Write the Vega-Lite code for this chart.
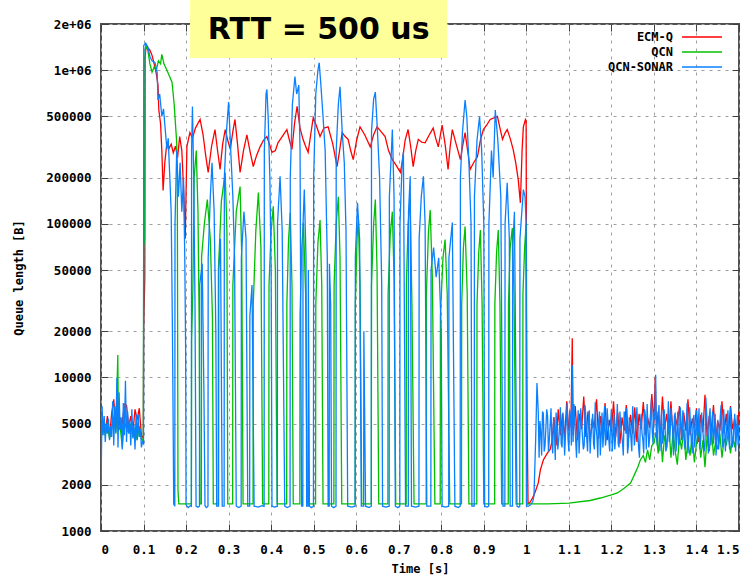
{
"$schema": "https://vega.github.io/schema/vega-lite/v6.json",
"width": 638, "height": 507,
"autosize": {"type": "none"},
"padding": {"left": 101, "top": 24, "right": 16, "bottom": 45},
"background": "white",
"config": {
  "view": {"stroke": "#505050", "strokeWidth": 2},
  "axis": {"labelFont": "DejaVu Sans Mono", "labelFontWeight": "bold", "labelFontSize": 12.5, "labelColor": "#000000",
           "titleFont": "DejaVu Sans Mono", "titleFontWeight": "bold", "titleFontSize": 12, "titleColor": "#000000",
           "domain": false, "tickColor": "#404040", "tickSize": -7, "tickWidth": 1,
           "gridColor": "#a0a0a0", "gridDash": [3, 5], "gridWidth": 1, "gridOpacity": 1}
},
"layer": [
{
  "data": {"values": [
{"time":0,"ECM-Q":4600},{"time":0.005,"ECM-Q":5200},{"time":0.01,"ECM-Q":4300},{"time":0.015,"ECM-Q":5600},{"time":0.02,"ECM-Q":4100},{"time":0.025,"ECM-Q":5800},{"time":0.03,"ECM-Q":7200},{"time":0.035,"ECM-Q":4600},{"time":0.04,"ECM-Q":6900},{"time":0.045,"ECM-Q":4700},{"time":0.05,"ECM-Q":5000},{"time":0.055,"ECM-Q":6700},{"time":0.06,"ECM-Q":6600},{"time":0.065,"ECM-Q":4800},{"time":0.07,"ECM-Q":5600},{"time":0.075,"ECM-Q":4400},{"time":0.08,"ECM-Q":6200},{"time":0.085,"ECM-Q":5300},{"time":0.09,"ECM-Q":6300},{"time":0.095,"ECM-Q":4200},{"time":0.0995,"ECM-Q":4000},
{"time":0.1003,"ECM-Q":20000},{"time":0.103,"ECM-Q":45000},{"time":0.1035,"ECM-Q":1200000},{"time":0.106,"ECM-Q":1450000},{"time":0.11,"ECM-Q":1400000},{"time":0.115,"ECM-Q":1350000},{"time":0.12,"ECM-Q":1250000},{"time":0.125,"ECM-Q":1100000},{"time":0.13,"ECM-Q":950000},{"time":0.134,"ECM-Q":800000},{"time":0.136,"ECM-Q":550000},{"time":0.14,"ECM-Q":450000},{"time":0.143,"ECM-Q":300000},{"time":0.146,"ECM-Q":165000},{"time":0.15,"ECM-Q":250000},{"time":0.155,"ECM-Q":340000},{"time":0.16,"ECM-Q":310000},{"time":0.165,"ECM-Q":330000},{"time":0.17,"ECM-Q":290000},{"time":0.175,"ECM-Q":320000},{"time":0.18,"ECM-Q":270000},{"time":0.185,"ECM-Q":370000},{"time":0.19,"ECM-Q":300000},{"time":0.195,"ECM-Q":150000},{"time":0.198,"ECM-Q":80000},
{"time":0.202,"ECM-Q":320000},{"time":0.209,"ECM-Q":393000},{"time":0.215,"ECM-Q":360000},{"time":0.222,"ECM-Q":420000},{"time":0.233,"ECM-Q":478000},{"time":0.24,"ECM-Q":380000},{"time":0.246,"ECM-Q":280000},{"time":0.252,"ECM-Q":216000},{"time":0.26,"ECM-Q":320000},{"time":0.268,"ECM-Q":411000},{"time":0.274,"ECM-Q":300000},{"time":0.28,"ECM-Q":226000},{"time":0.286,"ECM-Q":330000},{"time":0.292,"ECM-Q":411000},{"time":0.298,"ECM-Q":350000},{"time":0.304,"ECM-Q":305000},{"time":0.31,"ECM-Q":400000},{"time":0.315,"ECM-Q":478000},{"time":0.321,"ECM-Q":330000},{"time":0.327,"ECM-Q":216000},{"time":0.335,"ECM-Q":300000},{"time":0.343,"ECM-Q":380000},{"time":0.35,"ECM-Q":300000},{"time":0.358,"ECM-Q":236000},{"time":0.366,"ECM-Q":280000},{"time":0.374,"ECM-Q":317000},{"time":0.382,"ECM-Q":350000},{"time":0.39,"ECM-Q":370000},{"time":0.396,"ECM-Q":330000},
{"time":0.402,"ECM-Q":292000},{"time":0.41,"ECM-Q":300000},{"time":0.416,"ECM-Q":337000},{"time":0.426,"ECM-Q":370000},{"time":0.437,"ECM-Q":411000},{"time":0.443,"ECM-Q":350000},{"time":0.449,"ECM-Q":305000},{"time":0.455,"ECM-Q":450000},{"time":0.461,"ECM-Q":581000},{"time":0.468,"ECM-Q":420000},{"time":0.475,"ECM-Q":355000},{"time":0.481,"ECM-Q":320000},{"time":0.487,"ECM-Q":292000},{"time":0.493,"ECM-Q":380000},{"time":0.499,"ECM-Q":492000},{"time":0.507,"ECM-Q":430000},{"time":0.515,"ECM-Q":370000},{"time":0.524,"ECM-Q":420000},{"time":0.534,"ECM-Q":428000},{"time":0.545,"ECM-Q":330000},{"time":0.555,"ECM-Q":236000},{"time":0.561,"ECM-Q":300000},{"time":0.567,"ECM-Q":393000},{"time":0.574,"ECM-Q":370000},{"time":0.581,"ECM-Q":355000},{"time":0.587,"ECM-Q":300000},{"time":0.593,"ECM-Q":262000},
{"time":0.601,"ECM-Q":350000},{"time":0.609,"ECM-Q":428000},{"time":0.62,"ECM-Q":380000},{"time":0.633,"ECM-Q":317000},{"time":0.641,"ECM-Q":380000},{"time":0.649,"ECM-Q":428000},{"time":0.658,"ECM-Q":400000},{"time":0.668,"ECM-Q":370000},{"time":0.676,"ECM-Q":300000},{"time":0.685,"ECM-Q":262000},{"time":0.694,"ECM-Q":240000},{"time":0.704,"ECM-Q":216000},{"time":0.708,"ECM-Q":250000},{"time":0.715,"ECM-Q":350000},{"time":0.722,"ECM-Q":411000},{"time":0.728,"ECM-Q":320000},{"time":0.734,"ECM-Q":236000},{"time":0.74,"ECM-Q":300000},{"time":0.746,"ECM-Q":355000},{"time":0.754,"ECM-Q":340000},{"time":0.762,"ECM-Q":337000},{"time":0.772,"ECM-Q":380000},{"time":0.781,"ECM-Q":420000},{"time":0.787,"ECM-Q":360000},{"time":0.793,"ECM-Q":317000},{"time":0.798,"ECM-Q":380000},
{"time":0.802,"ECM-Q":440000},{"time":0.809,"ECM-Q":330000},{"time":0.816,"ECM-Q":226000},{"time":0.821,"ECM-Q":320000},{"time":0.826,"ECM-Q":411000},{"time":0.835,"ECM-Q":330000},{"time":0.845,"ECM-Q":262000},{"time":0.851,"ECM-Q":330000},{"time":0.856,"ECM-Q":393000},{"time":0.862,"ECM-Q":300000},{"time":0.868,"ECM-Q":226000},{"time":0.876,"ECM-Q":250000},{"time":0.885,"ECM-Q":273000},{"time":0.892,"ECM-Q":350000},{"time":0.899,"ECM-Q":411000},{"time":0.907,"ECM-Q":440000},{"time":0.915,"ECM-Q":478000},{"time":0.924,"ECM-Q":490000},{"time":0.932,"ECM-Q":500000},{"time":0.938,"ECM-Q":420000},{"time":0.944,"ECM-Q":355000},{"time":0.95,"ECM-Q":390000},{"time":0.955,"ECM-Q":411000},{"time":0.962,"ECM-Q":360000},{"time":0.969,"ECM-Q":305000},{"time":0.975,"ECM-Q":250000},{"time":0.981,"ECM-Q":194000},{"time":0.986,"ECM-Q":137000},{"time":0.99,"ECM-Q":300000},{"time":0.993,"ECM-Q":428000},{"time":0.998,"ECM-Q":478000},{"time":0.9995,"ECM-Q":470000},
{"time":1.0005,"ECM-Q":26000},{"time":1.002,"ECM-Q":5000},{"time":1.004,"ECM-Q":1500},{"time":1.009,"ECM-Q":1540},{"time":1.015,"ECM-Q":1650},{"time":1.021,"ECM-Q":1800},{"time":1.028,"ECM-Q":2050},{"time":1.033,"ECM-Q":2500},{"time":1.04,"ECM-Q":2900},{"time":1.049,"ECM-Q":3200},{"time":1.056,"ECM-Q":3400},
{"time":1.06,"ECM-Q":3800},{"time":1.065,"ECM-Q":5500},{"time":1.07,"ECM-Q":3600},{"time":1.075,"ECM-Q":6200},{"time":1.08,"ECM-Q":4200},{"time":1.085,"ECM-Q":5800},{"time":1.09,"ECM-Q":4000},{"time":1.095,"ECM-Q":7000},{"time":1.1,"ECM-Q":4500},{"time":1.105,"ECM-Q":5200},{"time":1.108,"ECM-Q":18000},{"time":1.11,"ECM-Q":4200},{"time":1.115,"ECM-Q":6500},{"time":1.12,"ECM-Q":3900},{"time":1.125,"ECM-Q":5800},{"time":1.13,"ECM-Q":4600},{"time":1.135,"ECM-Q":7500},{"time":1.14,"ECM-Q":4100},{"time":1.145,"ECM-Q":6000},{"time":1.15,"ECM-Q":3800},{"time":1.155,"ECM-Q":5400},{"time":1.16,"ECM-Q":4700},{"time":1.165,"ECM-Q":7200},{"time":1.17,"ECM-Q":4000},{"time":1.175,"ECM-Q":5600},{"time":1.18,"ECM-Q":4300},{"time":1.185,"ECM-Q":6800},{"time":1.19,"ECM-Q":3900},{"time":1.195,"ECM-Q":5300},
{"time":1.2,"ECM-Q":4400},{"time":1.205,"ECM-Q":7000},{"time":1.21,"ECM-Q":4100},{"time":1.215,"ECM-Q":5900},{"time":1.22,"ECM-Q":3700},{"time":1.225,"ECM-Q":5500},{"time":1.23,"ECM-Q":4500},{"time":1.235,"ECM-Q":6600},{"time":1.24,"ECM-Q":4000},{"time":1.245,"ECM-Q":5700},{"time":1.25,"ECM-Q":4300},{"time":1.255,"ECM-Q":6400},{"time":1.26,"ECM-Q":3800},{"time":1.265,"ECM-Q":5800},{"time":1.27,"ECM-Q":4600},{"time":1.275,"ECM-Q":6900},{"time":1.28,"ECM-Q":4200},{"time":1.285,"ECM-Q":5500},{"time":1.29,"ECM-Q":4700},{"time":1.295,"ECM-Q":7800},{"time":1.3,"ECM-Q":5000},{"time":1.303,"ECM-Q":10000},{"time":1.306,"ECM-Q":4500},{"time":1.31,"ECM-Q":6000},{"time":1.315,"ECM-Q":4100},{"time":1.32,"ECM-Q":7500},{"time":1.325,"ECM-Q":4600},{"time":1.33,"ECM-Q":5800},{"time":1.335,"ECM-Q":4300},{"time":1.34,"ECM-Q":7000},{"time":1.345,"ECM-Q":4000},{"time":1.35,"ECM-Q":5600},{"time":1.355,"ECM-Q":4800},{"time":1.36,"ECM-Q":6500},{"time":1.365,"ECM-Q":3900},{"time":1.37,"ECM-Q":5900},{"time":1.375,"ECM-Q":4500},{"time":1.38,"ECM-Q":7200},{"time":1.385,"ECM-Q":4200},{"time":1.39,"ECM-Q":5400},{"time":1.395,"ECM-Q":4700},
{"time":1.4,"ECM-Q":6300},{"time":1.405,"ECM-Q":3800},{"time":1.41,"ECM-Q":5700},{"time":1.415,"ECM-Q":4400},{"time":1.42,"ECM-Q":7700},{"time":1.425,"ECM-Q":4100},{"time":1.43,"ECM-Q":5600},{"time":1.435,"ECM-Q":4600},{"time":1.44,"ECM-Q":6600},{"time":1.445,"ECM-Q":3900},{"time":1.45,"ECM-Q":5200},{"time":1.455,"ECM-Q":4500},{"time":1.46,"ECM-Q":7000},{"time":1.465,"ECM-Q":4300},{"time":1.47,"ECM-Q":5800},{"time":1.475,"ECM-Q":4100},{"time":1.48,"ECM-Q":6500},{"time":1.485,"ECM-Q":4600},{"time":1.49,"ECM-Q":5400},{"time":1.495,"ECM-Q":4200},{"time":1.5,"ECM-Q":6000},

{"time":0,"QCN":4000},{"time":0.005,"QCN":4800},{"time":0.01,"QCN":4200},{"time":0.015,"QCN":5100},{"time":0.02,"QCN":4000},{"time":0.025,"QCN":4600},{"time":0.03,"QCN":5500},{"time":0.035,"QCN":4300},{"time":0.0395,"QCN":14000},{"time":0.041,"QCN":4500},{"time":0.045,"QCN":4800},{"time":0.05,"QCN":3500},{"time":0.055,"QCN":5200},{"time":0.06,"QCN":4600},{"time":0.065,"QCN":4400},{"time":0.07,"QCN":5000},{"time":0.075,"QCN":4100},{"time":0.08,"QCN":4700},{"time":0.085,"QCN":3900},{"time":0.09,"QCN":4800},{"time":0.095,"QCN":4000},{"time":0.0995,"QCN":3800},
{"time":0.1003,"QCN":70000},{"time":0.1025,"QCN":80000},{"time":0.1035,"QCN":1300000},{"time":0.106,"QCN":1450000},{"time":0.11,"QCN":1350000},{"time":0.115,"QCN":1100000},{"time":0.12,"QCN":970000},{"time":0.125,"QCN":1050000},{"time":0.13,"QCN":1000000},{"time":0.135,"QCN":1150000},{"time":0.14,"QCN":1100000},{"time":0.143,"QCN":1270000},{"time":0.148,"QCN":1100000},{"time":0.155,"QCN":1000000},{"time":0.162,"QCN":900000},{"time":0.167,"QCN":835000},{"time":0.172,"QCN":600000},{"time":0.175,"QCN":450000},{"time":0.178,"QCN":337000},{"time":0.1795,"QCN":150000},{"time":0.181,"QCN":1850},{"time":0.183,"QCN":1500},
{"time":0.2125,"QCN":1500},{"time":0.213,"QCN":17600},{"time":0.216,"QCN":37000},{"time":0.219,"QCN":200000},{"time":0.224,"QCN":300000},{"time":0.228,"QCN":120000},{"time":0.231,"QCN":20000},{"time":0.2325,"QCN":1500},
{"time":0.236,"QCN":1500},{"time":0.2365,"QCN":61000},{"time":0.243,"QCN":100000},{"time":0.25,"QCN":144000},{"time":0.257,"QCN":80000},{"time":0.262,"QCN":24800},{"time":0.264,"QCN":1500},
{"time":0.2755,"QCN":1500},{"time":0.276,"QCN":50000},{"time":0.283,"QCN":140000},{"time":0.292,"QCN":216000},{"time":0.296,"QCN":90000},{"time":0.298,"QCN":1500},
{"time":0.3095,"QCN":1500},{"time":0.31,"QCN":40000},{"time":0.318,"QCN":120000},{"time":0.327,"QCN":175000},{"time":0.331,"QCN":60000},{"time":0.334,"QCN":1500},
{"time":0.3575,"QCN":1500},{"time":0.358,"QCN":30000},{"time":0.364,"QCN":90000},{"time":0.37,"QCN":160000},{"time":0.376,"QCN":70000},{"time":0.38,"QCN":1500},
{"time":0.3945,"QCN":1500},{"time":0.395,"QCN":40000},{"time":0.4,"QCN":90000},{"time":0.405,"QCN":130000},{"time":0.41,"QCN":50000},{"time":0.414,"QCN":1500},
{"time":0.4365,"QCN":1500},{"time":0.437,"QCN":30000},{"time":0.441,"QCN":80000},{"time":0.445,"QCN":118000},{"time":0.449,"QCN":40000},{"time":0.452,"QCN":1500},
{"time":0.4675,"QCN":1500},{"time":0.468,"QCN":25000},{"time":0.472,"QCN":70000},{"time":0.476,"QCN":102000},{"time":0.481,"QCN":35000},{"time":0.485,"QCN":1500},
{"time":0.5045,"QCN":1500},{"time":0.505,"QCN":30000},{"time":0.51,"QCN":75000},{"time":0.515,"QCN":106000},{"time":0.519,"QCN":40000},{"time":0.522,"QCN":1500},
{"time":0.5475,"QCN":1500},{"time":0.548,"QCN":40000},{"time":0.553,"QCN":100000},{"time":0.558,"QCN":150000},{"time":0.562,"QCN":60000},{"time":0.566,"QCN":1500},
{"time":0.5975,"QCN":1500},{"time":0.598,"QCN":30000},{"time":0.602,"QCN":80000},{"time":0.605,"QCN":111000},{"time":0.609,"QCN":40000},{"time":0.613,"QCN":1500},
{"time":0.6355,"QCN":1500},{"time":0.636,"QCN":40000},{"time":0.641,"QCN":100000},{"time":0.645,"QCN":144000},{"time":0.649,"QCN":50000},{"time":0.653,"QCN":1500},
{"time":0.6745,"QCN":1500},{"time":0.675,"QCN":35000},{"time":0.68,"QCN":85000},{"time":0.685,"QCN":120000},{"time":0.689,"QCN":45000},{"time":0.693,"QCN":1500},
{"time":0.7175,"QCN":1500},{"time":0.718,"QCN":40000},{"time":0.722,"QCN":100000},{"time":0.727,"QCN":144000},{"time":0.731,"QCN":30000},{"time":0.736,"QCN":1500},
{"time":0.7645,"QCN":1500},{"time":0.765,"QCN":35000},{"time":0.77,"QCN":90000},{"time":0.774,"QCN":123000},{"time":0.779,"QCN":45000},{"time":0.785,"QCN":1500},
{"time":0.7975,"QCN":1500},{"time":0.798,"QCN":25000},{"time":0.804,"QCN":60000},{"time":0.809,"QCN":79000},{"time":0.814,"QCN":35000},{"time":0.82,"QCN":1500},
{"time":0.8475,"QCN":1500},{"time":0.848,"QCN":30000},{"time":0.852,"QCN":70000},{"time":0.856,"QCN":96000},{"time":0.861,"QCN":35000},{"time":0.865,"QCN":1500},
{"time":0.8835,"QCN":1500},{"time":0.884,"QCN":30000},{"time":0.888,"QCN":65000},{"time":0.892,"QCN":91000},{"time":0.896,"QCN":30000},{"time":0.9,"QCN":1500},
{"time":0.9255,"QCN":1500},{"time":0.926,"QCN":30000},{"time":0.93,"QCN":65000},{"time":0.934,"QCN":91000},{"time":0.938,"QCN":30000},{"time":0.942,"QCN":1500},
{"time":0.9575,"QCN":1500},{"time":0.958,"QCN":30000},{"time":0.962,"QCN":70000},{"time":0.967,"QCN":94000},{"time":0.971,"QCN":35000},{"time":0.976,"QCN":1500},
{"time":0.9915,"QCN":1500},{"time":0.992,"QCN":35000},{"time":0.996,"QCN":70000},{"time":0.9995,"QCN":100000},{"time":1.0005,"QCN":1500},
{"time":1.05,"QCN":1500},{"time":1.1,"QCN":1520},{"time":1.15,"QCN":1580},{"time":1.174,"QCN":1640},{"time":1.2,"QCN":1720},{"time":1.214,"QCN":1770},{"time":1.23,"QCN":1900},{"time":1.245,"QCN":2050},{"time":1.25,"QCN":2200},{"time":1.256,"QCN":2390},{"time":1.262,"QCN":2600},{"time":1.268,"QCN":2900},{"time":1.275,"QCN":3100},{"time":1.28,"QCN":2800},{"time":1.285,"QCN":3370},{"time":1.29,"QCN":2900},{"time":1.295,"QCN":3600},{"time":1.3,"QCN":3740},
{"time":1.305,"QCN":4400},{"time":1.31,"QCN":3200},{"time":1.315,"QCN":4800},{"time":1.32,"QCN":2800},{"time":1.325,"QCN":4200},{"time":1.33,"QCN":3500},{"time":1.335,"QCN":5000},{"time":1.34,"QCN":3000},{"time":1.345,"QCN":4400},{"time":1.35,"QCN":3300},{"time":1.355,"QCN":2700},{"time":1.36,"QCN":4100},{"time":1.365,"QCN":3400},{"time":1.37,"QCN":4600},{"time":1.375,"QCN":2900},{"time":1.38,"QCN":3800},{"time":1.385,"QCN":3100},{"time":1.39,"QCN":4300},{"time":1.395,"QCN":2800},{"time":1.4,"QCN":3700},{"time":1.405,"QCN":4500},{"time":1.41,"QCN":3000},{"time":1.415,"QCN":3900},{"time":1.42,"QCN":2600},{"time":1.425,"QCN":4200},{"time":1.43,"QCN":3300},{"time":1.435,"QCN":4700},{"time":1.44,"QCN":3100},{"time":1.445,"QCN":3800},{"time":1.45,"QCN":3400},{"time":1.455,"QCN":4300},{"time":1.46,"QCN":3000},{"time":1.465,"QCN":4000},{"time":1.47,"QCN":3600},{"time":1.475,"QCN":4400},{"time":1.48,"QCN":3200},{"time":1.485,"QCN":4100},{"time":1.49,"QCN":3500},{"time":1.495,"QCN":4600},{"time":1.5,"QCN":3900},

{"time":0,"QCN-SONAR":1800},{"time":0.0025,"QCN-SONAR":6500},{"time":0.005,"QCN-SONAR":4200},{"time":0.0075,"QCN-SONAR":5600},{"time":0.01,"QCN-SONAR":3800},{"time":0.0125,"QCN-SONAR":5000},{"time":0.015,"QCN-SONAR":4300},{"time":0.0175,"QCN-SONAR":5400},{"time":0.02,"QCN-SONAR":3900},{"time":0.0225,"QCN-SONAR":4800},{"time":0.025,"QCN-SONAR":4100},{"time":0.0275,"QCN-SONAR":7000},{"time":0.03,"QCN-SONAR":3600},{"time":0.0325,"QCN-SONAR":6500},{"time":0.035,"QCN-SONAR":4400},{"time":0.0375,"QCN-SONAR":10000},{"time":0.04,"QCN-SONAR":3500},{"time":0.0425,"QCN-SONAR":8000},{"time":0.045,"QCN-SONAR":4600},{"time":0.0475,"QCN-SONAR":5500},{"time":0.05,"QCN-SONAR":3400},{"time":0.0525,"QCN-SONAR":6800},{"time":0.055,"QCN-SONAR":4200},{"time":0.0575,"QCN-SONAR":9500},{"time":0.06,"QCN-SONAR":3800},{"time":0.0625,"QCN-SONAR":6000},{"time":0.065,"QCN-SONAR":4300},{"time":0.0675,"QCN-SONAR":5200},{"time":0.07,"QCN-SONAR":3600},{"time":0.0725,"QCN-SONAR":6200},{"time":0.075,"QCN-SONAR":4000},{"time":0.0775,"QCN-SONAR":4900},{"time":0.08,"QCN-SONAR":3400},{"time":0.0825,"QCN-SONAR":5800},{"time":0.085,"QCN-SONAR":3900},{"time":0.0875,"QCN-SONAR":5700},{"time":0.09,"QCN-SONAR":4100},{"time":0.0925,"QCN-SONAR":4600},{"time":0.095,"QCN-SONAR":3500},{"time":0.0975,"QCN-SONAR":3800},{"time":0.1,"QCN-SONAR":3700},
{"time":0.1005,"QCN-SONAR":1450000},{"time":0.105,"QCN-SONAR":1500000},{"time":0.11,"QCN-SONAR":1420000},{"time":0.115,"QCN-SONAR":1230000},{"time":0.12,"QCN-SONAR":1150000},{"time":0.127,"QCN-SONAR":1120000},{"time":0.132,"QCN-SONAR":968000},{"time":0.134,"QCN-SONAR":640000},{"time":0.138,"QCN-SONAR":700000},{"time":0.143,"QCN-SONAR":500000},{"time":0.147,"QCN-SONAR":560000},{"time":0.151,"QCN-SONAR":411000},{"time":0.155,"QCN-SONAR":305000},{"time":0.158,"QCN-SONAR":360000},{"time":0.162,"QCN-SONAR":194000},{"time":0.165,"QCN-SONAR":120000},{"time":0.168,"QCN-SONAR":20000},{"time":0.171,"QCN-SONAR":1500},{"time":0.1735,"QCN-SONAR":1450},{"time":0.174,"QCN-SONAR":100000},{"time":0.178,"QCN-SONAR":300000},{"time":0.182,"QCN-SONAR":150000},{"time":0.186,"QCN-SONAR":250000},{"time":0.19,"QCN-SONAR":120000},{"time":0.194,"QCN-SONAR":200000},{"time":0.197,"QCN-SONAR":60000},{"time":0.199,"QCN-SONAR":15000},{"time":0.2,"QCN-SONAR":1480},{"time":0.205,"QCN-SONAR":1420},{"time":0.21,"QCN-SONAR":1460},{"time":0.2125,"QCN-SONAR":1450},
{"time":0.213,"QCN-SONAR":300000},{"time":0.215,"QCN-SONAR":580000},{"time":0.218,"QCN-SONAR":200000},{"time":0.221,"QCN-SONAR":30000},{"time":0.2235,"QCN-SONAR":1450},{"time":0.228,"QCN-SONAR":1430},
{"time":0.2315,"QCN-SONAR":1450},{"time":0.232,"QCN-SONAR":40000},{"time":0.238,"QCN-SONAR":55000},{"time":0.242,"QCN-SONAR":8000},{"time":0.2445,"QCN-SONAR":1460},{"time":0.248,"QCN-SONAR":1420},
{"time":0.2515,"QCN-SONAR":1450},{"time":0.252,"QCN-SONAR":60000},{"time":0.257,"QCN-SONAR":150000},{"time":0.261,"QCN-SONAR":250000},{"time":0.266,"QCN-SONAR":120000},{"time":0.27,"QCN-SONAR":20000},{"time":0.272,"QCN-SONAR":1450},
{"time":0.2765,"QCN-SONAR":1450},{"time":0.277,"QCN-SONAR":50000},{"time":0.281,"QCN-SONAR":80000},{"time":0.285,"QCN-SONAR":1450},
{"time":0.2895,"QCN-SONAR":1450},{"time":0.29,"QCN-SONAR":200000},{"time":0.295,"QCN-SONAR":400000},{"time":0.3,"QCN-SONAR":620000},{"time":0.305,"QCN-SONAR":300000},{"time":0.31,"QCN-SONAR":150000},{"time":0.314,"QCN-SONAR":60000},{"time":0.318,"QCN-SONAR":1450},{"time":0.324,"QCN-SONAR":1420},
{"time":0.3295,"QCN-SONAR":1450},{"time":0.33,"QCN-SONAR":60000},{"time":0.336,"QCN-SONAR":120000},{"time":0.341,"QCN-SONAR":80000},{"time":0.345,"QCN-SONAR":1450},
{"time":0.3495,"QCN-SONAR":1450},{"time":0.35,"QCN-SONAR":25000},{"time":0.355,"QCN-SONAR":40000},{"time":0.36,"QCN-SONAR":1450},{"time":0.37,"QCN-SONAR":1430},{"time":0.378,"QCN-SONAR":1460},
{"time":0.3835,"QCN-SONAR":1450},{"time":0.384,"QCN-SONAR":300000},{"time":0.388,"QCN-SONAR":700000},{"time":0.39,"QCN-SONAR":750000},{"time":0.393,"QCN-SONAR":500000},{"time":0.397,"QCN-SONAR":200000},{"time":0.4,"QCN-SONAR":50000},{"time":0.402,"QCN-SONAR":1450},{"time":0.408,"QCN-SONAR":1430},
{"time":0.4145,"QCN-SONAR":1450},{"time":0.415,"QCN-SONAR":100000},{"time":0.421,"QCN-SONAR":204000},{"time":0.426,"QCN-SONAR":90000},{"time":0.432,"QCN-SONAR":1450},{"time":0.438,"QCN-SONAR":1420},
{"time":0.4445,"QCN-SONAR":1450},{"time":0.445,"QCN-SONAR":200000},{"time":0.45,"QCN-SONAR":600000},{"time":0.456,"QCN-SONAR":910000},{"time":0.46,"QCN-SONAR":700000},{"time":0.465,"QCN-SONAR":800000},{"time":0.468,"QCN-SONAR":300000},{"time":0.4715,"QCN-SONAR":1450},
{"time":0.4745,"QCN-SONAR":1450},{"time":0.475,"QCN-SONAR":100000},{"time":0.478,"QCN-SONAR":167000},{"time":0.482,"QCN-SONAR":60000},{"time":0.4835,"QCN-SONAR":1450},
{"time":0.487,"QCN-SONAR":1450},{"time":0.4875,"QCN-SONAR":50000},{"time":0.49,"QCN-SONAR":1450},{"time":0.495,"QCN-SONAR":1420},
{"time":0.4995,"QCN-SONAR":1450},{"time":0.5,"QCN-SONAR":200000},{"time":0.505,"QCN-SONAR":700000},{"time":0.51,"QCN-SONAR":1000000},{"time":0.513,"QCN-SONAR":1120000},{"time":0.517,"QCN-SONAR":800000},{"time":0.522,"QCN-SONAR":500000},{"time":0.527,"QCN-SONAR":300000},{"time":0.532,"QCN-SONAR":60000},{"time":0.534,"QCN-SONAR":1450},
{"time":0.5365,"QCN-SONAR":1450},{"time":0.537,"QCN-SONAR":55000},{"time":0.54,"QCN-SONAR":30000},{"time":0.542,"QCN-SONAR":1450},{"time":0.547,"QCN-SONAR":1420},
{"time":0.5525,"QCN-SONAR":1450},{"time":0.553,"QCN-SONAR":300000},{"time":0.558,"QCN-SONAR":600000},{"time":0.562,"QCN-SONAR":780000},{"time":0.567,"QCN-SONAR":400000},{"time":0.572,"QCN-SONAR":250000},{"time":0.576,"QCN-SONAR":91000},{"time":0.58,"QCN-SONAR":1450},{"time":0.59,"QCN-SONAR":1430},
{"time":0.5975,"QCN-SONAR":1450},{"time":0.598,"QCN-SONAR":60000},{"time":0.603,"QCN-SONAR":137000},{"time":0.608,"QCN-SONAR":80000},{"time":0.612,"QCN-SONAR":1450},
{"time":0.6175,"QCN-SONAR":1450},{"time":0.618,"QCN-SONAR":20000},{"time":0.622,"QCN-SONAR":1450},{"time":0.63,"QCN-SONAR":1420},
{"time":0.6355,"QCN-SONAR":1450},{"time":0.636,"QCN-SONAR":400000},{"time":0.641,"QCN-SONAR":650000},{"time":0.645,"QCN-SONAR":720000},{"time":0.65,"QCN-SONAR":400000},{"time":0.655,"QCN-SONAR":200000},{"time":0.66,"QCN-SONAR":40000},{"time":0.662,"QCN-SONAR":1450},{"time":0.67,"QCN-SONAR":1430},
{"time":0.6775,"QCN-SONAR":1450},{"time":0.678,"QCN-SONAR":150000},{"time":0.685,"QCN-SONAR":411000},{"time":0.689,"QCN-SONAR":150000},{"time":0.692,"QCN-SONAR":1450},{"time":0.698,"QCN-SONAR":1420},
{"time":0.7025,"QCN-SONAR":1450},{"time":0.703,"QCN-SONAR":100000},{"time":0.708,"QCN-SONAR":250000},{"time":0.711,"QCN-SONAR":292000},{"time":0.716,"QCN-SONAR":1450},
{"time":0.7225,"QCN-SONAR":1450},{"time":0.723,"QCN-SONAR":120000},{"time":0.727,"QCN-SONAR":204000},{"time":0.73,"QCN-SONAR":1450},{"time":0.74,"QCN-SONAR":1430},
{"time":0.7475,"QCN-SONAR":1450},{"time":0.748,"QCN-SONAR":80000},{"time":0.753,"QCN-SONAR":150000},{"time":0.758,"QCN-SONAR":204000},{"time":0.762,"QCN-SONAR":100000},{"time":0.766,"QCN-SONAR":1450},
{"time":0.7755,"QCN-SONAR":1450},{"time":0.776,"QCN-SONAR":50000},{"time":0.782,"QCN-SONAR":70000},{"time":0.788,"QCN-SONAR":45000},{"time":0.794,"QCN-SONAR":60000},{"time":0.8,"QCN-SONAR":20000},{"time":0.802,"QCN-SONAR":1450},{"time":0.81,"QCN-SONAR":1430},
{"time":0.8175,"QCN-SONAR":1450},{"time":0.818,"QCN-SONAR":60000},{"time":0.826,"QCN-SONAR":102000},{"time":0.832,"QCN-SONAR":1450},{"time":0.84,"QCN-SONAR":1420},
{"time":0.8445,"QCN-SONAR":1450},{"time":0.845,"QCN-SONAR":200000},{"time":0.85,"QCN-SONAR":400000},{"time":0.856,"QCN-SONAR":640000},{"time":0.86,"QCN-SONAR":500000},{"time":0.865,"QCN-SONAR":250000},{"time":0.87,"QCN-SONAR":100000},{"time":0.872,"QCN-SONAR":1450},
{"time":0.8775,"QCN-SONAR":1450},{"time":0.878,"QCN-SONAR":150000},{"time":0.884,"QCN-SONAR":350000},{"time":0.89,"QCN-SONAR":500000},{"time":0.895,"QCN-SONAR":300000},{"time":0.9,"QCN-SONAR":100000},{"time":0.902,"QCN-SONAR":1450},{"time":0.908,"QCN-SONAR":1430},
{"time":0.9115,"QCN-SONAR":1450},{"time":0.912,"QCN-SONAR":100000},{"time":0.918,"QCN-SONAR":300000},{"time":0.922,"QCN-SONAR":200000},{"time":0.927,"QCN-SONAR":550000},{"time":0.933,"QCN-SONAR":350000},{"time":0.94,"QCN-SONAR":150000},{"time":0.945,"QCN-SONAR":1450},
{"time":0.9495,"QCN-SONAR":1450},{"time":0.95,"QCN-SONAR":100000},{"time":0.955,"QCN-SONAR":185000},{"time":0.96,"QCN-SONAR":80000},{"time":0.962,"QCN-SONAR":1450},
{"time":0.9675,"QCN-SONAR":1450},{"time":0.968,"QCN-SONAR":70000},{"time":0.972,"QCN-SONAR":120000},{"time":0.978,"QCN-SONAR":1450},{"time":0.982,"QCN-SONAR":1430},
{"time":0.9845,"QCN-SONAR":1450},{"time":0.985,"QCN-SONAR":80000},{"time":0.993,"QCN-SONAR":167000},{"time":0.997,"QCN-SONAR":150000},{"time":0.9995,"QCN-SONAR":100000},{"time":1.0005,"QCN-SONAR":1450},{"time":1.005,"QCN-SONAR":1450},{"time":1.01,"QCN-SONAR":1480},{"time":1.015,"QCN-SONAR":1550},{"time":1.018,"QCN-SONAR":1700},{"time":1.022,"QCN-SONAR":4000},{"time":1.025,"QCN-SONAR":9200},{"time":1.028,"QCN-SONAR":6000},{"time":1.03,"QCN-SONAR":3000},
{"time":1.032,"QCN-SONAR":5200},{"time":1.036,"QCN-SONAR":3100},{"time":1.04,"QCN-SONAR":5800},{"time":1.044,"QCN-SONAR":3600},{"time":1.048,"QCN-SONAR":6200},{"time":1.052,"QCN-SONAR":3300},{"time":1.056,"QCN-SONAR":4900},{"time":1.06,"QCN-SONAR":3800},{"time":1.064,"QCN-SONAR":5500},{"time":1.068,"QCN-SONAR":2900},{"time":1.072,"QCN-SONAR":4700},{"time":1.076,"QCN-SONAR":3900},{"time":1.08,"QCN-SONAR":6400},{"time":1.084,"QCN-SONAR":3500},{"time":1.088,"QCN-SONAR":5100},{"time":1.092,"QCN-SONAR":4200},{"time":1.096,"QCN-SONAR":6800},{"time":1.1,"QCN-SONAR":3300},{"time":1.104,"QCN-SONAR":5600},{"time":1.108,"QCN-SONAR":12000},{"time":1.11,"QCN-SONAR":3800},{"time":1.114,"QCN-SONAR":5300},{"time":1.118,"QCN-SONAR":3000},{"time":1.122,"QCN-SONAR":6100},{"time":1.126,"QCN-SONAR":4300},{"time":1.13,"QCN-SONAR":5000},{"time":1.134,"QCN-SONAR":3400},{"time":1.138,"QCN-SONAR":6600},{"time":1.142,"QCN-SONAR":4000},{"time":1.146,"QCN-SONAR":5400},{"time":1.15,"QCN-SONAR":3200},{"time":1.154,"QCN-SONAR":4800},{"time":1.158,"QCN-SONAR":3700},{"time":1.162,"QCN-SONAR":6900},{"time":1.166,"QCN-SONAR":4100},{"time":1.17,"QCN-SONAR":5200},{"time":1.174,"QCN-SONAR":3100},{"time":1.178,"QCN-SONAR":5900},{"time":1.182,"QCN-SONAR":4400},{"time":1.186,"QCN-SONAR":3600},{"time":1.19,"QCN-SONAR":6300},{"time":1.194,"QCN-SONAR":3900},{"time":1.198,"QCN-SONAR":5000},
{"time":1.202,"QCN-SONAR":3300},{"time":1.206,"QCN-SONAR":5700},{"time":1.21,"QCN-SONAR":4200},{"time":1.214,"QCN-SONAR":6700},{"time":1.218,"QCN-SONAR":3500},{"time":1.222,"QCN-SONAR":4900},{"time":1.226,"QCN-SONAR":3800},{"time":1.23,"QCN-SONAR":6000},{"time":1.234,"QCN-SONAR":4300},{"time":1.238,"QCN-SONAR":3200},{"time":1.242,"QCN-SONAR":5500},{"time":1.246,"QCN-SONAR":4000},{"time":1.25,"QCN-SONAR":6500},{"time":1.254,"QCN-SONAR":3600},{"time":1.258,"QCN-SONAR":5100},{"time":1.262,"QCN-SONAR":4400},{"time":1.266,"QCN-SONAR":3000},{"time":1.27,"QCN-SONAR":5800},{"time":1.274,"QCN-SONAR":3900},{"time":1.278,"QCN-SONAR":6200},{"time":1.282,"QCN-SONAR":3400},{"time":1.286,"QCN-SONAR":4700},{"time":1.29,"QCN-SONAR":4100},{"time":1.294,"QCN-SONAR":7200},{"time":1.298,"QCN-SONAR":3700},{"time":1.302,"QCN-SONAR":5300},{"time":1.304,"QCN-SONAR":10400},{"time":1.306,"QCN-SONAR":4200},{"time":1.31,"QCN-SONAR":5600},{"time":1.314,"QCN-SONAR":3300},{"time":1.318,"QCN-SONAR":6100},{"time":1.322,"QCN-SONAR":4000},{"time":1.326,"QCN-SONAR":5000},{"time":1.33,"QCN-SONAR":3500},{"time":1.334,"QCN-SONAR":7000},{"time":1.338,"QCN-SONAR":4300},{"time":1.342,"QCN-SONAR":5400},{"time":1.346,"QCN-SONAR":3100},{"time":1.35,"QCN-SONAR":5900},{"time":1.354,"QCN-SONAR":4200},{"time":1.358,"QCN-SONAR":3600},{"time":1.362,"QCN-SONAR":6400},{"time":1.366,"QCN-SONAR":3900},{"time":1.37,"QCN-SONAR":5200},{"time":1.374,"QCN-SONAR":3400},{"time":1.378,"QCN-SONAR":6800},{"time":1.382,"QCN-SONAR":4100},{"time":1.386,"QCN-SONAR":4900},{"time":1.39,"QCN-SONAR":3200},{"time":1.394,"QCN-SONAR":5700},{"time":1.398,"QCN-SONAR":4400},
{"time":1.402,"QCN-SONAR":3700},{"time":1.406,"QCN-SONAR":6300},{"time":1.41,"QCN-SONAR":3900},{"time":1.414,"QCN-SONAR":5100},{"time":1.418,"QCN-SONAR":3300},{"time":1.422,"QCN-SONAR":7400},{"time":1.426,"QCN-SONAR":4200},{"time":1.43,"QCN-SONAR":5500},{"time":1.434,"QCN-SONAR":3600},{"time":1.438,"QCN-SONAR":6000},{"time":1.442,"QCN-SONAR":4500},{"time":1.446,"QCN-SONAR":3100},{"time":1.45,"QCN-SONAR":5300},{"time":1.454,"QCN-SONAR":4000},{"time":1.458,"QCN-SONAR":6600},{"time":1.462,"QCN-SONAR":3500},{"time":1.466,"QCN-SONAR":4800},{"time":1.47,"QCN-SONAR":4200},{"time":1.474,"QCN-SONAR":6100},{"time":1.478,"QCN-SONAR":3400},{"time":1.482,"QCN-SONAR":5000},{"time":1.486,"QCN-SONAR":3800},{"time":1.49,"QCN-SONAR":5800},{"time":1.494,"QCN-SONAR":4300},{"time":1.498,"QCN-SONAR":3600},{"time":1.5,"QCN-SONAR":4900},
{"time":1.034,"QCN-SONAR":4400},{"time":1.038,"QCN-SONAR":6000},{"time":1.042,"QCN-SONAR":3300},{"time":1.046,"QCN-SONAR":4700},{"time":1.05,"QCN-SONAR":5600},{"time":1.054,"QCN-SONAR":3900},{"time":1.058,"QCN-SONAR":6300},{"time":1.062,"QCN-SONAR":3200},{"time":1.066,"QCN-SONAR":4600},{"time":1.07,"QCN-SONAR":5900},{"time":1.074,"QCN-SONAR":3400},{"time":1.078,"QCN-SONAR":4800},{"time":1.082,"QCN-SONAR":3700},{"time":1.086,"QCN-SONAR":5900},{"time":1.09,"QCN-SONAR":3100},{"time":1.094,"QCN-SONAR":5200},{"time":1.098,"QCN-SONAR":4000},{"time":1.102,"QCN-SONAR":6100},{"time":1.106,"QCN-SONAR":3600},{"time":1.112,"QCN-SONAR":6700},{"time":1.116,"QCN-SONAR":3900},{"time":1.12,"QCN-SONAR":4900},{"time":1.124,"QCN-SONAR":3200},{"time":1.128,"QCN-SONAR":6300},{"time":1.132,"QCN-SONAR":4100},{"time":1.136,"QCN-SONAR":3600},{"time":1.14,"QCN-SONAR":5500},{"time":1.144,"QCN-SONAR":3300},{"time":1.148,"QCN-SONAR":6100},{"time":1.152,"QCN-SONAR":4300},{"time":1.156,"QCN-SONAR":5800},{"time":1.16,"QCN-SONAR":3400},{"time":1.164,"QCN-SONAR":4700},{"time":1.168,"QCN-SONAR":3000},{"time":1.172,"QCN-SONAR":6000},{"time":1.176,"QCN-SONAR":4200},{"time":1.18,"QCN-SONAR":3500},{"time":1.184,"QCN-SONAR":6500},{"time":1.188,"QCN-SONAR":4000},{"time":1.192,"QCN-SONAR":5100},{"time":1.196,"QCN-SONAR":3300},
{"time":1.2,"QCN-SONAR":6200},{"time":1.204,"QCN-SONAR":4100},{"time":1.208,"QCN-SONAR":3400},{"time":1.212,"QCN-SONAR":4900},{"time":1.216,"QCN-SONAR":3700},{"time":1.22,"QCN-SONAR":6000},{"time":1.224,"QCN-SONAR":4300},{"time":1.228,"QCN-SONAR":3100},{"time":1.232,"QCN-SONAR":5300},{"time":1.236,"QCN-SONAR":6300},{"time":1.24,"QCN-SONAR":3600},{"time":1.244,"QCN-SONAR":4800},{"time":1.248,"QCN-SONAR":3300},{"time":1.252,"QCN-SONAR":5200},{"time":1.256,"QCN-SONAR":4100},{"time":1.26,"QCN-SONAR":6400},{"time":1.264,"QCN-SONAR":3500},{"time":1.268,"QCN-SONAR":5000},{"time":1.272,"QCN-SONAR":4300},{"time":1.276,"QCN-SONAR":3200},{"time":1.28,"QCN-SONAR":5600},{"time":1.284,"QCN-SONAR":6700},{"time":1.288,"QCN-SONAR":3500},{"time":1.292,"QCN-SONAR":5400},{"time":1.296,"QCN-SONAR":4400},{"time":1.3,"QCN-SONAR":6000},{"time":1.308,"QCN-SONAR":3600},{"time":1.312,"QCN-SONAR":6600},{"time":1.316,"QCN-SONAR":4500},{"time":1.32,"QCN-SONAR":3700},{"time":1.324,"QCN-SONAR":6200},{"time":1.328,"QCN-SONAR":3300},{"time":1.332,"QCN-SONAR":4600},{"time":1.336,"QCN-SONAR":3800},{"time":1.34,"QCN-SONAR":6300},{"time":1.344,"QCN-SONAR":4700},{"time":1.348,"QCN-SONAR":5600},{"time":1.352,"QCN-SONAR":3300},{"time":1.356,"QCN-SONAR":6000},{"time":1.36,"QCN-SONAR":3800},{"time":1.364,"QCN-SONAR":4900},{"time":1.368,"QCN-SONAR":6100},{"time":1.372,"QCN-SONAR":3600},{"time":1.376,"QCN-SONAR":4700},{"time":1.38,"QCN-SONAR":3200},{"time":1.384,"QCN-SONAR":6400},{"time":1.388,"QCN-SONAR":3800},{"time":1.392,"QCN-SONAR":5300},{"time":1.396,"QCN-SONAR":3500},
{"time":1.4,"QCN-SONAR":6100},{"time":1.404,"QCN-SONAR":4500},{"time":1.408,"QCN-SONAR":3400},{"time":1.412,"QCN-SONAR":5900},{"time":1.416,"QCN-SONAR":4100},{"time":1.42,"QCN-SONAR":3600},{"time":1.424,"QCN-SONAR":5800},{"time":1.428,"QCN-SONAR":3200},{"time":1.432,"QCN-SONAR":6300},{"time":1.436,"QCN-SONAR":4400},{"time":1.44,"QCN-SONAR":3700},{"time":1.444,"QCN-SONAR":5800},{"time":1.448,"QCN-SONAR":4200},{"time":1.452,"QCN-SONAR":3400},{"time":1.456,"QCN-SONAR":5600},{"time":1.46,"QCN-SONAR":4300},{"time":1.464,"QCN-SONAR":6200},{"time":1.468,"QCN-SONAR":3300},{"time":1.472,"QCN-SONAR":5200},{"time":1.476,"QCN-SONAR":4000},{"time":1.48,"QCN-SONAR":6400},{"time":1.484,"QCN-SONAR":3500},{"time":1.488,"QCN-SONAR":4800},{"time":1.492,"QCN-SONAR":3300},{"time":1.496,"QCN-SONAR":5700}
  ]},
  "transform": [
    {"fold": ["ECM-Q", "QCN", "QCN-SONAR"], "as": ["series", "queue"]},
    {"filter": "isValid(datum.queue)"}
  ],
  "mark": {"type": "line", "strokeWidth": 1.3, "clip": true},
  "encoding": {
    "x": {"field": "time", "type": "quantitative",
          "scale": {"domain": [0, 1.5], "nice": false, "zero": false},
          "axis": {"values": [0,0.1,0.2,0.3,0.4,0.5,0.6,0.7,0.8,0.9,1,1.1,1.2,1.3,1.4,1.5], "format": "~g",
                   "title": "Time [s]", "labelPadding": 19, "titlePadding": 8}},
    "y": {"field": "queue", "type": "quantitative",
          "scale": {"type": "log", "domain": [1000, 2000000], "nice": false},
          "axis": {"values": [1000,2000,5000,10000,20000,50000,100000,200000,500000,1000000,2000000],
                   "labelExpr": "datum.value >= 1000000 ? (datum.value < 1500000 ? '1e+06' : '2e+06') : format(datum.value, 'd')",
                   "title": "Queue length [B]", "labelPadding": 17, "titlePadding": 20}},
    "color": {"field": "series", "type": "nominal",
              "scale": {"domain": ["ECM-Q", "QCN", "QCN-SONAR"], "range": ["#ff0000", "#00c000", "#0a80ff"]},
              "legend": {"orient": "none", "legendX": 595, "legendY": 7, "title": null, "padding": 0,
                         "symbolType": "M-4,0H4", "symbolSize": 100, "symbolStrokeWidth": 1.3,
                         "labelAlign": "right", "labelOffset": -35, "rowPadding": 3,
                         "labelFont": "DejaVu Sans Mono", "labelFontWeight": "bold", "labelFontSize": 12, "labelColor": "#000000"}}
  }
},
{
  "data": {"values": [{"label": "RTT = 500 us"}]},
  "mark": {"type": "rect", "color": "#ffff99"},
  "encoding": {
    "x": {"datum": 0.2094, "type": "quantitative",
          "scale": {"domain": [0, 1.5], "nice": false, "zero": false},
          "axis": {"orient": "top", "labels": false, "title": null, "grid": false,
                   "values": [0,0.1,0.2,0.3,0.4,0.5,0.6,0.7,0.8,0.9,1,1.1,1.2,1.3,1.4,1.5]}},
    "x2": {"datum": 0.8141},
    "y": {"datum": 1201200, "type": "quantitative",
          "scale": {"type": "log", "domain": [1000, 2000000], "nice": false},
          "axis": {"orient": "right", "labels": false, "title": null, "grid": false,
                   "values": [1000,2000,5000,10000,20000,50000,100000,200000,500000,1000000,2000000]}},
    "y2": {"datum": 2866000}
  }
},
{
  "data": {"values": [{"label": "RTT = 500 us"}]},
  "mark": {"type": "text", "font": "DejaVu Sans", "fontWeight": "bold", "fontSize": 30, "align": "center", "baseline": "middle", "color": "#000000"},
  "encoding": {
    "x": {"datum": 0.5118, "type": "quantitative", "axis": null},
    "y": {"datum": 1828000, "type": "quantitative", "axis": null},
    "text": {"field": "label"}
  }
}
],
"resolve": {"axis": {"x": "independent", "y": "independent"}}
}
